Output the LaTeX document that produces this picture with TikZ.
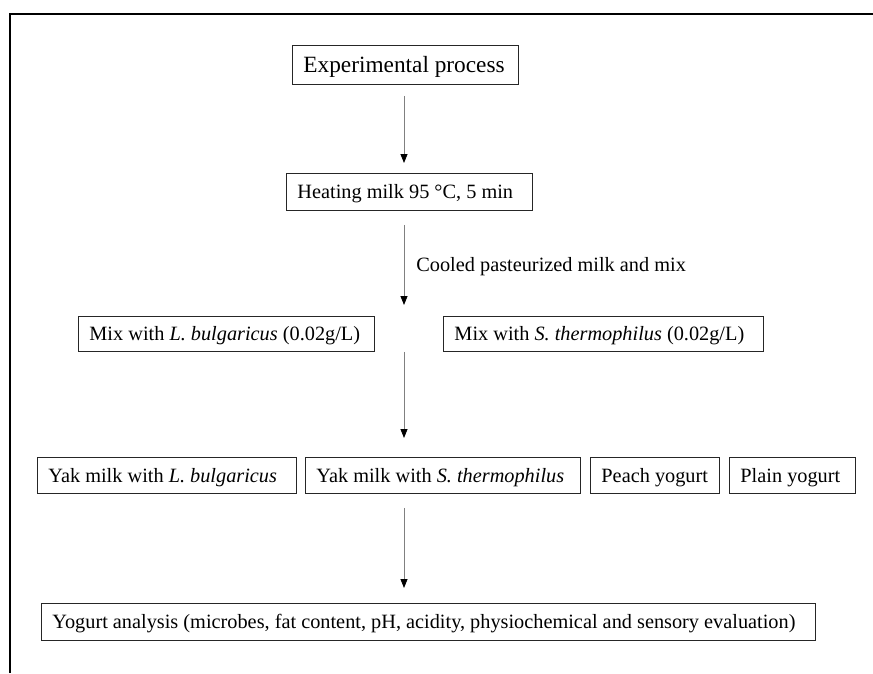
\documentclass[tikz,border=0pt]{standalone}
\usepackage{fontspec}
\setmainfont{Liberation Serif}
\usetikzlibrary{arrows.meta}
\newcommand{\fbw}[2]{\makebox[\dimexpr#1pt-22pt\relax][l]{#2}}
\begin{document}
\begin{tikzpicture}[x=1pt,y=-1pt,
  boxnode/.style={draw=black!85, line width=0.9pt, inner xsep=11pt, inner ysep=0pt,
    anchor=north west, font=\fontsize{20.3pt}{24pt}\selectfont, text height=14pt, text depth=0pt},
  arr/.style={draw=black!50, line width=0.8pt, -{Triangle[length=9pt,width=7pt,fill=black,color=black]}},
  frameline/.style={line width=1.6pt, draw=black}]
\useasboundingbox (0,0) rectangle (873,673);
\fill[white] (0,0) rectangle (873,673);
\draw[frameline] (10,673) -- (10,14) -- (873,14);
\coordinate (axis) at (404,0);

\node[boxnode, minimum height=39pt, font=\fontsize{23.3pt}{27pt}\selectfont, text height=16pt] (exp) at (292,45) {\fbw{226}{Experimental process}};
\node[boxnode, minimum height=37pt] (heat) at (286,173) {\fbw{246}{Heating milk 95 °C, 5 min}};
\node[boxnode, minimum height=35pt] (mixL) at (78,316) {\fbw{296}{Mix with \textit{L. bulgaricus} (0.02g/L)}};
\node[boxnode, minimum height=35pt] (mixS) at (443,316) {\fbw{320}{Mix with \textit{S. thermophilus} (0.02g/L)}};
\node[boxnode, minimum height=36pt] (yakL) at (37,457) {\fbw{259}{Yak milk with \textit{L. bulgaricus}}};
\node[boxnode, minimum height=36pt] (yakS) at (305,457) {\fbw{275}{Yak milk with \textit{S. thermophilus}}};
\node[boxnode, minimum height=36pt] (peach) at (590,457) {\fbw{129}{Peach yogurt}};
\node[boxnode, minimum height=36pt] (plain) at (729,457) {\fbw{126}{Plain yogurt}};
\node[boxnode, minimum height=37pt] (yog) at (41,603) {\fbw{774}{Yogurt analysis (microbes, fat content, pH, acidity, physiochemical and sensory evaluation)}};

\draw[arr, shorten <=11pt, shorten >=10pt] (exp.south -| axis) -- (heat.north -| axis);
\draw[arr, shorten <=14pt, shorten >=11pt] (heat.south -| axis) --
  node[anchor=west, xshift=12pt, yshift=-3pt, inner sep=0pt, font=\fontsize{20.3pt}{24pt}\selectfont] (lbl) {Cooled pasteurized milk and mix}
  (mixL.north -| axis);
\draw[arr, shorten >=19pt] (mixL.south -| axis) -- (yakS.north -| axis);
\draw[arr, shorten <=14pt, shorten >=15pt] (yakS.south -| axis) -- (yog.north -| axis);
\end{tikzpicture}
\end{document}
